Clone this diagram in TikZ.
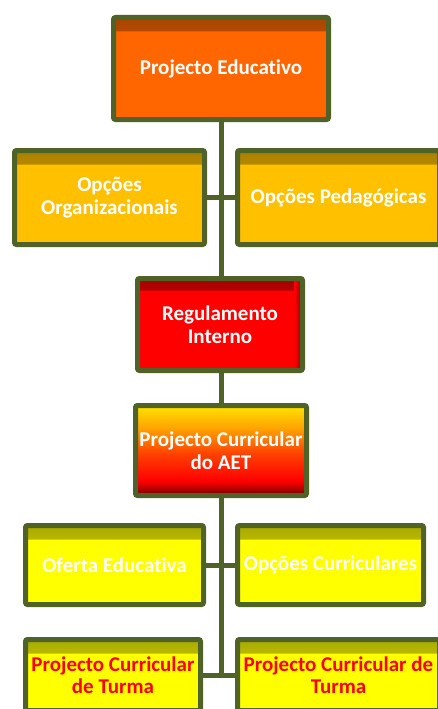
\documentclass[tikz,border=0pt]{standalone}
\usepackage{fontspec}
\setmainfont{Carlito}[Ligatures=NoCommon]
\usetikzlibrary{backgrounds}
\definecolor{olive}{HTML}{4F6228}
\definecolor{peorange}{HTML}{FF6600}
\definecolor{pedark}{HTML}{8B3A00}
\definecolor{gold}{HTML}{FFC000}
\definecolor{golddark}{HTML}{8B6A00}
\definecolor{redfill}{HTML}{FF0000}
\definecolor{reddark}{HTML}{8B0000}
\definecolor{yel}{HTML}{FFFF00}
\definecolor{yeldark}{HTML}{8B8B00}
\definecolor{aetY}{HTML}{FFE400}
\definecolor{aetO}{HTML}{FFA000}
\definecolor{aetR}{HTML}{FF4000}
\definecolor{aetD}{HTML}{700000}
\pgfdeclareverticalshading{aetshade}{100bp}{color(0bp)=(aetD); color(25bp)=(aetD); color(33bp)=(redfill); color(48bp)=(aetR); color(62bp)=(aetO); color(75bp)=(aetY); color(100bp)=(aetY)}
\tikzset{
  x=1pt, y=-1pt,
  boxstyle/.style={draw=olive, line width=5pt, rounded corners=2pt, align=center,
    inner sep=0pt, text=white, font=\fontsize{21}{22.5}\selectfont\bfseries},
  glow/.style 2 args={fill=#2, path picture={\shade[top color=#1!75!#2, bottom color=#2]
     (path picture bounding box.north west) rectangle ([yshift=-14pt]path picture bounding box.north east);}},
  conn/.style={draw=olive, line width=5pt},
}
\begin{document}
\begin{tikzpicture}
\useasboundingbox (0,0) rectangle (438,709);
\clip (0,0) rectangle (438,709);
% nodes
\node[boxstyle, glow={pedark}{peorange}, minimum width=215pt, minimum height=102pt]
  (pe) at (221,68.5) {Projecto Educativo};
\node[boxstyle, glow={golddark}{gold}, minimum width=190pt, minimum height=94pt]
  (oo) at (109.5,197.5) {Opções\\Organizacionais};
\node[boxstyle, glow={golddark}{gold}, minimum width=202pt, minimum height=94pt]
  (op) at (338.5,197.5) {Opções Pedagógicas};
\node[boxstyle, fill=redfill, minimum width=165pt, minimum height=92pt,
  path picture={\shade[top color=reddark!75!redfill, bottom color=redfill] (path picture bounding box.north west) rectangle ([yshift=-12pt]path picture bounding box.north east);
  \shade[left color=redfill, right color=reddark] ([xshift=-8pt]path picture bounding box.north east) rectangle (path picture bounding box.south east);}]
  (ri) at (220,324.5) {Regulamento\\Interno};
\node[boxstyle, shading=aetshade, minimum width=171pt, minimum height=90pt]
  (aet) at (221,450.5) {Projecto Curricular\\do AET};
\node[boxstyle, glow={yeldark}{yel}, minimum width=178pt, minimum height=79pt]
  (oe) at (114.5,565) {Oferta Educativa};
\node[boxstyle, glow={yeldark}{yel}, minimum width=186pt, minimum height=79pt]
  (oc) at (330.5,565) {Opções Curriculares};
\node[boxstyle, glow={yeldark}{yel}, text=redfill, minimum width=175pt, minimum height=71pt]
  (tl) at (113,675) {Projecto Curricular\\de Turma};
\node[boxstyle, glow={yeldark}{yel}, text=redfill, minimum width=202pt, minimum height=71pt]
  (tr) at (338.5,675) {Projecto Curricular de\\Turma};
% connectors (behind boxes)
\coordinate (trunkend) at (pe.south |- tl.east);
\begin{scope}[on background layer]
\draw[conn] (pe.south) -- (trunkend);
\draw[conn] (oo.east) -- (op.west);
\draw[conn] (oe.east) -- (oc.west);
\draw[conn] (tl.east) -- (tr.west);
\end{scope}
\end{tikzpicture}
\end{document}
